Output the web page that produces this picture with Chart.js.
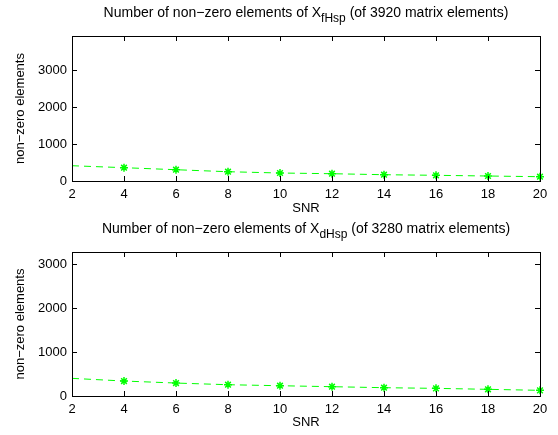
<!DOCTYPE html>
<html>
<head>
<meta charset="utf-8">
<script src="https://cdn.jsdelivr.net/npm/chart.js@4.4.1/dist/chart.umd.min.js"></script>
<style>
  html, body { margin: 0; padding: 0; background: #fff; }
  .wrap { position: absolute; left: 0; width: 558px; }
  #topWrap { top: 0; height: 218px; }
  #botWrap { top: 218px; height: 217px; }
</style>
</head>
<body>
<div class="wrap" id="topWrap"><canvas id="topChart"></canvas></div>
<div class="wrap" id="botWrap"><canvas id="botChart"></canvas></div>
<script>
// values
const snr = [2, 4, 6, 8, 10, 12, 14, 16, 18, 20];
const nnzFHsp = [413, 360, 305, 251, 216, 197, 170, 154, 135, 116];
const nnzDHsp = [402, 341, 295, 257, 234, 212, 189, 174, 152, 129];
const xTicks = [2, 4, 6, 8, 10, 12, 14, 16, 18, 20];
const yTicks = [0, 1000, 2000, 3000];
const totalFHsp = 3920;
const totalDHsp = 3280;

const FONT = '"Liberation Sans", Arial, Helvetica, sans-serif';
const FONT_SIZE = 13;
const GREEN = '#00ff00';

// frame, inward ticks on all four sides, titles with subscripts
const matlabAxes = {
    id: 'matlabAxes',
    afterDraw(chart, args, opts) {
        const ctx = chart.ctx;
        const a = chart.chartArea;
        const xs = chart.scales.x, ys = chart.scales.y;
        const tl = 5;
        ctx.save();
        ctx.strokeStyle = '#000';
        ctx.lineWidth = 1;
        ctx.beginPath();
        xTicks.forEach(v => {
            const px = Math.round(xs.getPixelForValue(v)) + 0.5;
            ctx.moveTo(px, a.bottom); ctx.lineTo(px, a.bottom - tl);
            ctx.moveTo(px, a.top); ctx.lineTo(px, a.top + tl);
        });
        yTicks.forEach(v => {
            const py = Math.round(ys.getPixelForValue(v)) + 0.5;
            ctx.moveTo(a.left, py); ctx.lineTo(a.left + tl, py);
            ctx.moveTo(a.right, py); ctx.lineTo(a.right - tl, py);
        });
        ctx.stroke();
        ctx.strokeRect(Math.round(a.left) + 0.5, Math.round(a.top) + 0.5,
            Math.round(a.right - a.left), Math.round(a.bottom - a.top));

        ctx.fillStyle = '#000';
        // title: main text, subscript, rest
        const cx = (a.left + a.right) / 2;
        const mainFont = '14px ' + FONT;
        const subFont = '12px ' + FONT;
        ctx.font = mainFont;
        const w1 = ctx.measureText(opts.title).width;
        const w3 = ctx.measureText(opts.rest).width;
        ctx.font = subFont;
        const w2 = ctx.measureText(opts.sub).width;
        let x0 = cx - (w1 + w2 + w3) / 2;
        ctx.textAlign = 'left';
        ctx.textBaseline = 'alphabetic';
        ctx.font = mainFont;
        ctx.fillText(opts.title, x0, opts.titleY);
        ctx.font = subFont;
        ctx.fillText(opts.sub, x0 + w1, opts.titleY + 5);
        ctx.font = mainFont;
        ctx.fillText(opts.rest, x0 + w1 + w2, opts.titleY);

        // x label
        ctx.font = FONT_SIZE + 'px ' + FONT;
        ctx.textAlign = 'center';
        ctx.textBaseline = 'middle';
        ctx.fillText('SNR', cx, a.bottom + opts.xLabelGap);

        // y label
        ctx.translate(20, (a.top + a.bottom) / 2);
        ctx.rotate(-Math.PI / 2);
        ctx.fillText('non\u2212zero elements', 0, 0);
        ctx.restore();
    }
};

function makeChart(canvasId, values, yMax, sub, total, areaTop, areaBottom, height, titleY, xLabelGap) {
    return new Chart(document.getElementById(canvasId), {
        type: 'line',
        data: {
            datasets: [{
                data: snr.map((s, i) => ({ x: s, y: values[i] })),
                borderColor: GREEN,
                backgroundColor: GREEN,
                borderWidth: 1,
                borderDash: [7, 5],
                pointStyle: 'star',
                pointRadius: ctx => ctx.dataIndex === 0 ? 0 : 4,
                pointBorderColor: GREEN,
                pointBorderWidth: 1.5,
                fill: false,
                tension: 0,
                clip: false
            }]
        },
        options: {
            responsive: true,
            maintainAspectRatio: false,
            animation: false,
            events: [],
            layout: { padding: { left: 0, right: 18, top: areaTop, bottom: 0 } },
            plugins: {
                legend: { display: false },
                tooltip: { enabled: false },
                matlabAxes: { title: 'Number of non\u2212zero elements of X', sub: sub,
                    rest: ' (of ' + total + ' matrix elements)', titleY: titleY, xLabelGap: xLabelGap }
            },
            scales: {
                x: {
                    type: 'linear',
                    min: 2, max: 20,
                    afterBuildTicks: s => { s.ticks = xTicks.map(v => ({ value: v })); },
                    afterFit: s => { s.height = height - areaBottom; },
                    grid: { display: false, drawTicks: false },
                    border: { display: false },
                    ticks: { color: '#000', font: { family: FONT, size: FONT_SIZE }, padding: 6,
                        maxRotation: 0, autoSkip: false, callback: v => String(v) }
                },
                y: {
                    min: 0, max: yMax,
                    afterBuildTicks: s => { s.ticks = yTicks.map(v => ({ value: v })); },
                    afterFit: s => { s.width = 72; },
                    grid: { display: false, drawTicks: false },
                    border: { display: false },
                    ticks: { color: '#000', font: { family: FONT, size: FONT_SIZE }, padding: 5,
                        callback: v => String(v) }
                }
            }
        },
        plugins: [matlabAxes]
    });
}

makeChart('topChart', nnzFHsp, totalFHsp, 'fHsp', totalFHsp, 36, 181, 218, 17, 27);
makeChart('botChart', nnzDHsp, totalDHsp, 'dHsp', totalDHsp, 34, 178, 217, 15, 26);
</script>
</body>
</html>
